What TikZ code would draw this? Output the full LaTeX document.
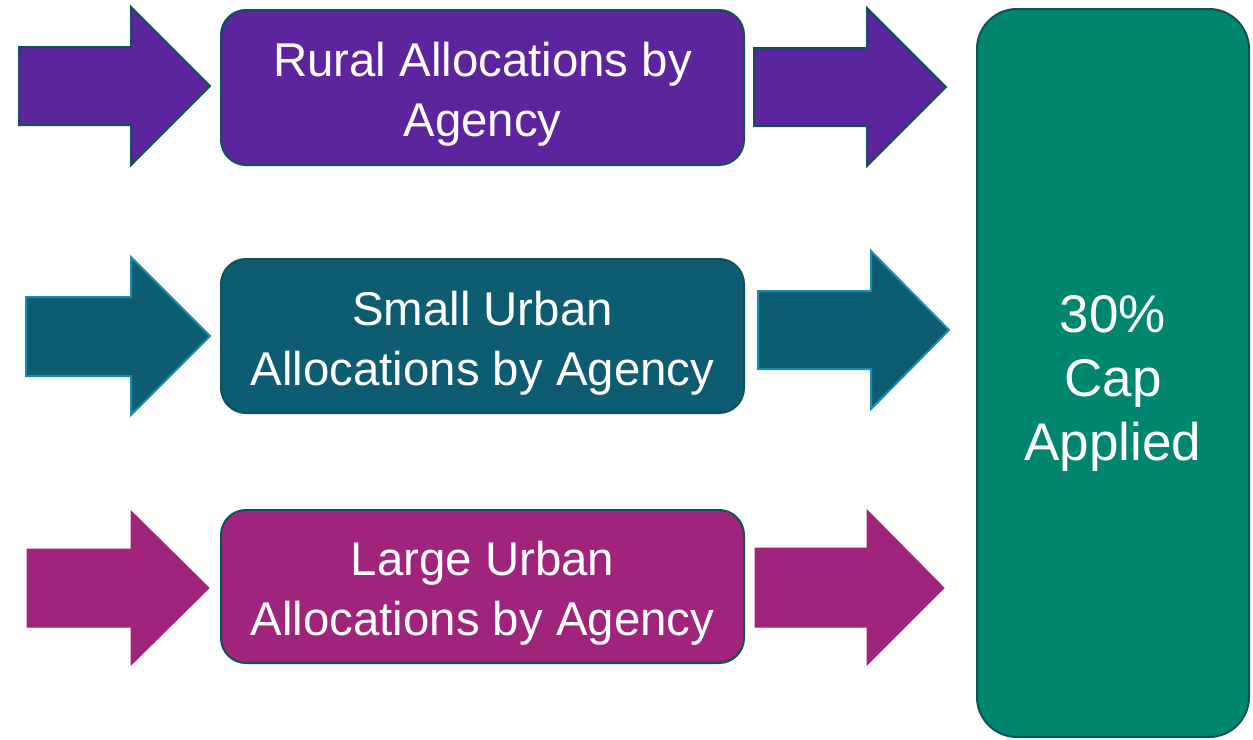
\documentclass[tikz,border=0pt]{standalone}
\usepackage{fontspec}
\setmainfont{Liberation Sans}
\usepackage{xcolor}
\usepackage{tikz}

\definecolor{ruralpurple}{HTML}{5C259D}
\definecolor{smallteal}{HTML}{0E5C71}
\definecolor{largemagenta}{HTML}{A0247B}
\definecolor{capgreen}{HTML}{00866F}
\definecolor{edgeteal}{HTML}{0D5257}
\definecolor{edgeblue}{HTML}{1B8DB1}

\begin{document}
\begin{tikzpicture}[x=0.5pt,y=0.5pt,yscale=-1,xscale=1,
  agencybox/.style={draw=edgeteal, line width=1pt, rounded corners=12.5pt, minimum width=261.5pt, minimum height=77pt, inner sep=0pt},
  capbox/.style={draw=edgeteal, line width=1pt, rounded corners=20pt, minimum width=136pt, minimum height=364pt, inner sep=0pt},
  agencytext/.style={inner sep=0pt, align=center, text=white, font=\fontsize{23.7}{30}\selectfont},
  captext/.style={inner sep=0pt, align=center, text=white, font=\fontsize{26.5}{32}\selectfont}]
\path[use as bounding box] (0,0) rectangle (1253,739);

%Shape: Right Arrow [id:rural-in] 
\draw [color=edgeteal, fill=ruralpurple, line width=1pt]  (19,47) -- (131,47) -- (131,7) -- (210,86) -- (131,165) -- (131,125) -- (19,125) -- cycle ;
%Shape: Right Arrow [id:rural-out] 
\draw [color=edgeteal, fill=ruralpurple, line width=1pt]  (754,48) -- (867,48) -- (867,8) -- (946,87) -- (867,166) -- (867,126) -- (754,126) -- cycle ;
%Shape: Right Arrow [id:small-in] 
\draw [color=edgeblue, fill=smallteal, line width=1pt]  (26,297) -- (131,297) -- (131,257) -- (210,336) -- (131,415) -- (131,376) -- (26,376) -- cycle ;
%Shape: Right Arrow [id:small-out] 
\draw [color=edgeblue, fill=smallteal, line width=1pt]  (758,291) -- (871,291) -- (871,251) -- (949,330) -- (871,409) -- (871,369) -- (758,369) -- cycle ;
%Shape: Right Arrow [id:large-in] 
\draw [color=largemagenta, fill=largemagenta, line width=0.5pt]  (27,549) -- (131,549) -- (131,511) -- (209,588) -- (131,665) -- (131,627) -- (27,627) -- cycle ;
%Shape: Right Arrow [id:large-out] 
\draw [color=largemagenta, fill=largemagenta, line width=0.5pt]  (755,548) -- (867,548) -- (867,510) -- (944,588) -- (867,665) -- (867,627) -- (755,627) -- cycle ;

%Rounded Rect [id:rural] 
\node (rural) [agencybox, fill=ruralpurple, minimum height=77.5pt] at (482.5,87.5) {};
%Rounded Rect [id:small] 
\node (small) [agencybox, fill=smallteal] at (482.5,336) {};
%Rounded Rect [id:large] 
\node (large) [agencybox, fill=largemagenta, minimum height=76.5pt] at (482.5,586.5) {};
%Rounded Rect [id:cap] 
\node (cap) [capbox, fill=capgreen] at (1113,373) {};

% Text Node
\node (ruraltext) [agencytext] at ([yshift=3.5pt]rural.center) {Rural Allocations by\\Agency};
% Text Node
\node (smalltext) [agencytext] at ([yshift=3.5pt]small.center) {Small Urban\\Allocations by Agency};
% Text Node
\node (largetext) [agencytext] at ([yshift=3.5pt]large.center) {Large Urban\\Allocations by Agency};
% Text Node
\node (captext) [captext] at ([yshift=5pt]cap.center) {30\%\\Cap\\Applied};

\end{tikzpicture}
\end{document}
